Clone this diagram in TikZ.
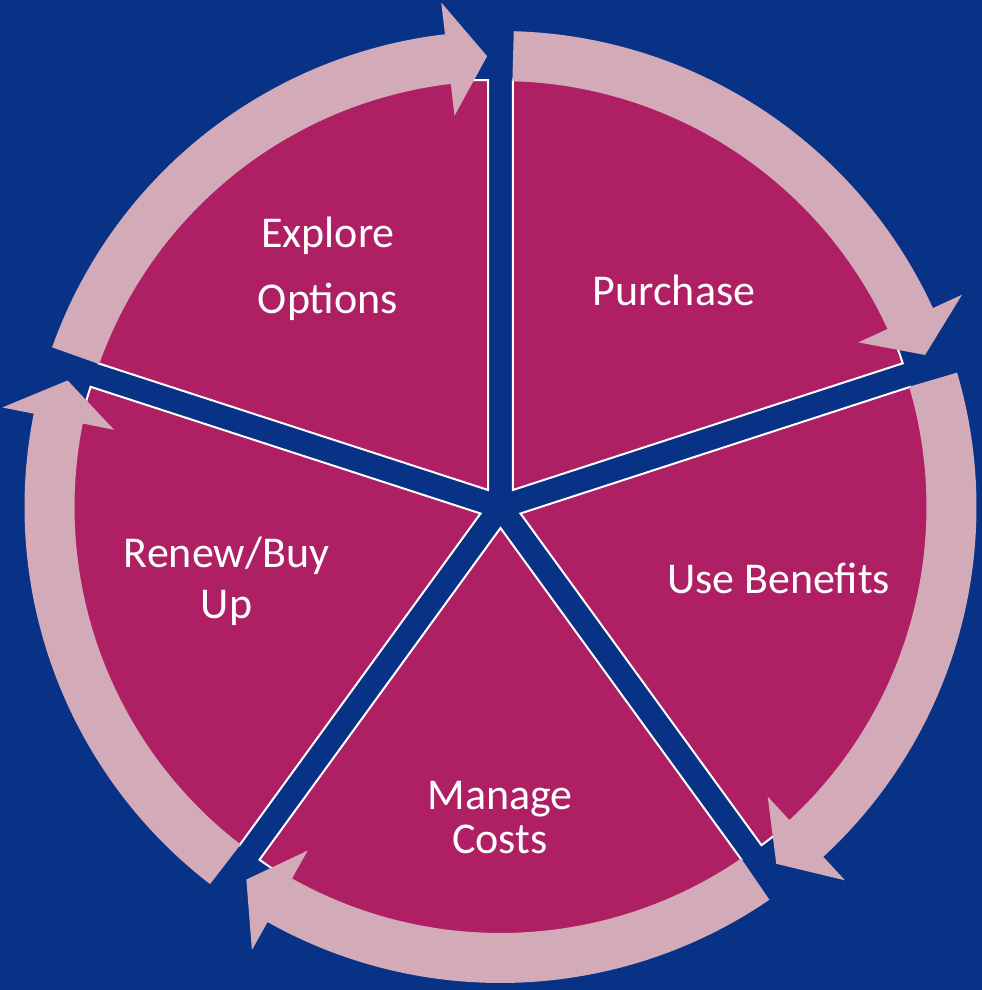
\documentclass[tikz,border=0pt]{standalone}
\usepackage{fontspec}
\setmainfont{Carlito}
\definecolor{bgblue}{RGB}{8,50,134}
\definecolor{wedge}{RGB}{174,31,99}
\definecolor{ringpink}{RGB}{211,170,184}
\begin{document}
\begin{tikzpicture}[x=0.75pt, y=0.75pt,
    slice/.style={fill=wedge, draw=white, line width=1.5pt},
    ringarrow/.style={fill=ringpink},
    phasetext/.style={text=white, align=center, anchor=base}]
  \fill[bgblue] (-500.5,-483) rectangle (481.5,507);
  \useasboundingbox (-500.5,-483) rectangle (481.5,507);
  \foreach \a in {90,18,-54,-126,-198}
    \filldraw[slice] (\a-36:21) -- ++(\a:410) arc[start angle=\a, end angle=\a-72, radius=410] -- cycle;
  \foreach \a in {90,18,-54,-126,-198}
    \fill[ringarrow] (\a-1.6:476) arc[start angle=\a-1.6, end angle=\a-65.3, radius=476]
      -- (\a-65.3:508) -- (\a-70.3:451) -- (\a-65.3:394) -- (\a-65.3:426)
      arc[start angle=\a-65.3, end angle=\a-1.6, radius=426] -- cycle;
  \node[phasetext, font=\fontsize{33}{49.5}\selectfont] (explore) at (-172.5,194) {Explore\\Options};
  \node[phasetext, font=\fontsize{33}{38}\selectfont] (purchase) at (173.5,202) {Purchase};
  \node[phasetext, font=\fontsize{33}{38}\selectfont] (benefits) at (278,-86) {Use Benefits};
  \node[phasetext, font=\fontsize{33}{33}\selectfont] (manage) at (-0.5,-346) {Manage\\Costs};
  \node[phasetext, font=\fontsize{33}{38.25}\selectfont] (renew) at (-274,-111) {Renew/Buy\\Up};
\end{tikzpicture}
\end{document}
